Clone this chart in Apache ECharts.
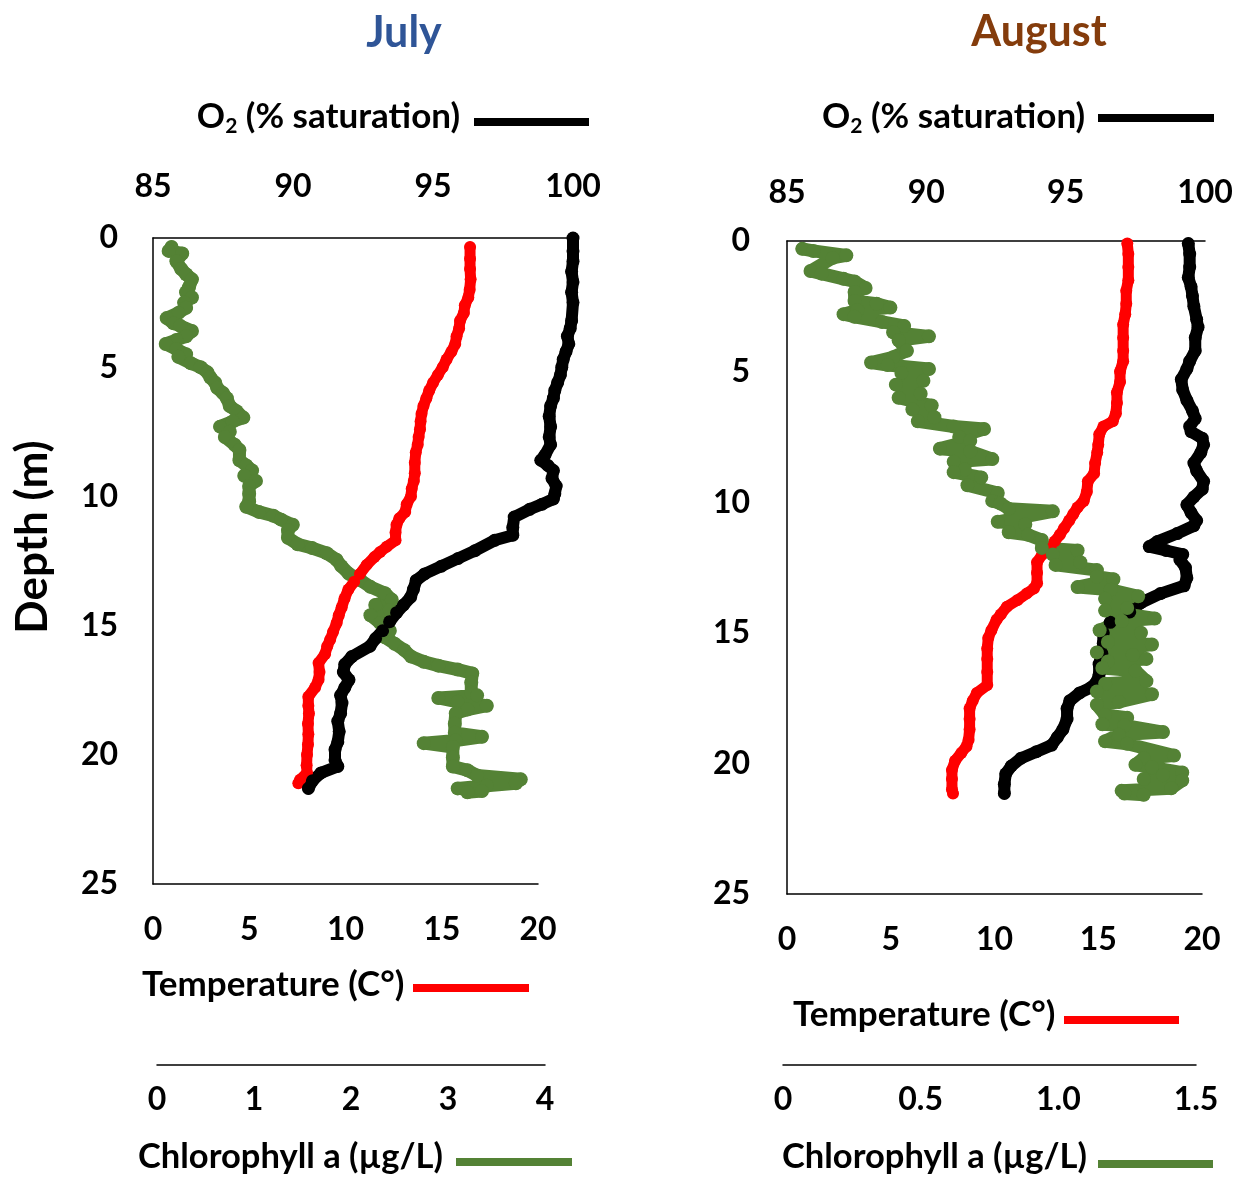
<!DOCTYPE html>
<html><head><meta charset="utf-8">
<script src="https://cdn.jsdelivr.net/npm/echarts@6/dist/echarts.min.js"></script>
<style>html,body{margin:0;padding:0;background:#fff}#c{width:1239px;height:1178px}</style>
</head><body><div id="c"></div>
<script>
// ---------------- DATA ----------------
const titles = ['July', 'August'];
const depthTicks = [0, 5, 10, 15, 20, 25];
const o2Ticks = [85, 90, 95, 100];
const tempTicks = [0, 5, 10, 15, 20];
const julyChlTicks = [0, 1, 2, 3, 4];
const augChlTicks = ['0', '0.5', '1.0', '1.5'];

// [O2 % saturation, depth m]
const julyO2 = [[100,0.0],[100,0.5],[100,0.9],[99.95,1.3],[100,1.7],[99.95,2.1],[100,2.5],[99.95,3.2],[99.9,3.5],[99.8,3.8],[99.85,4.1],[99.75,4.4],[99.65,4.7],[99.6,5.0],[99.55,5.3],[99.45,5.6],[99.35,5.9],[99.3,6.2],[99.2,6.5],[99.15,6.9],[99.2,7.3],[99.15,7.7],[99.2,8.0],[99.0,8.4],[98.85,8.6],[99.1,8.8],[99.3,9.0],[99.25,9.3],[99.4,9.6],[99.35,9.9],[99.3,10.1],[98.9,10.3],[98.45,10.5],[97.9,10.8],[97.85,11.2],[97.85,11.5],[97.2,11.7],[96.5,12.1],[95.9,12.4],[95.3,12.7],[94.7,13.0],[94.4,13.25],[94.3,13.6],[94.2,13.9],[93.95,14.2],[93.7,14.5],[93.45,14.85],[93.2,15.2],[92.95,15.5],[92.75,15.8],[92.1,16.2],[91.85,16.5],[91.8,16.8],[92.0,17.1],[91.85,17.4],[91.7,17.7],[91.75,18.0],[91.7,18.4],[91.6,18.7],[91.65,19.1],[91.6,19.5],[91.5,19.8],[91.5,20.2],[91.6,20.45],[91.0,20.7],[90.7,21.0],[90.55,21.3]];
// [temperature C, depth m]
const julyTemp = [[16.47,0.35],[16.47,0.8],[16.47,1.2],[16.5,1.6],[16.45,2.0],[16.38,2.3],[16.2,2.6],[16.15,2.9],[15.95,3.2],[15.9,3.5],[15.77,3.8],[15.7,4.1],[15.5,4.4],[15.25,4.7],[15.05,5.0],[14.8,5.3],[14.55,5.6],[14.35,5.9],[14.2,6.2],[14.05,6.5],[13.95,6.8],[13.9,7.1],[13.87,7.4],[13.8,7.7],[13.75,8.0],[13.65,8.3],[13.6,8.7],[13.6,9.1],[13.55,9.4],[13.44,9.7],[13.4,10.0],[13.18,10.3],[13.1,10.6],[12.8,10.85],[12.65,11.1],[12.6,11.4],[12.6,11.7],[12.14,11.95],[11.8,12.15],[11.5,12.35],[11.1,12.65],[10.75,13.0],[10.45,13.3],[10.15,13.6],[9.95,13.95],[9.8,14.3],[9.65,14.6],[9.54,14.9],[9.35,15.25],[9.2,15.55],[9.05,15.8],[8.94,16.1],[8.6,16.45],[8.65,16.8],[8.6,17.1],[8.42,17.4],[8.07,17.75],[8.07,18.1],[8.1,18.4],[8.05,18.8],[8.07,19.2],[8.05,19.6],[8.0,20.0],[7.98,20.4],[8.0,20.7],[7.64,20.97],[7.55,21.1]];
// [chlorophyll a ug/L, depth m]
const julyChl = [[0.15,0.35],[0.12,0.5],[0.26,0.6],[0.2,0.9],[0.25,1.2],[0.3,1.4],[0.36,1.6],[0.33,1.9],[0.3,2.1],[0.36,2.3],[0.28,2.5],[0.3,2.7],[0.22,2.9],[0.1,3.1],[0.17,3.3],[0.24,3.4],[0.36,3.6],[0.3,3.8],[0.2,3.95],[0.09,4.1],[0.2,4.3],[0.3,4.5],[0.22,4.6],[0.35,4.85],[0.45,5.0],[0.52,5.2],[0.55,5.4],[0.6,5.6],[0.62,5.8],[0.68,6.0],[0.72,6.2],[0.75,6.5],[0.82,6.7],[0.89,6.95],[0.78,7.1],[0.65,7.3],[0.75,7.5],[0.7,7.7],[0.8,8.0],[0.85,8.2],[0.85,8.6],[0.92,8.8],[0.98,9.0],[0.9,9.2],[1.02,9.4],[0.95,9.6],[0.95,9.9],[0.95,10.2],[0.92,10.4],[1.05,10.6],[1.2,10.75],[1.28,10.9],[1.4,11.1],[1.35,11.3],[1.35,11.6],[1.45,11.85],[1.6,12.0],[1.75,12.2],[1.85,12.45],[1.9,12.7],[1.98,13.0],[2.1,13.25],[2.2,13.5],[2.35,13.75],[2.42,14.0],[2.25,14.2],[2.4,14.4],[2.2,14.6],[2.3,14.9],[2.4,15.2],[2.35,15.45],[2.45,15.7],[2.55,15.95],[2.62,16.2],[2.75,16.4],[2.9,16.55],[3.1,16.7],[3.25,16.85],[3.24,17.2],[3.24,17.6],[3.3,17.7],[2.9,17.8],[3.1,17.95],[3.4,18.1],[3.2,18.25],[3.08,18.4],[3.07,18.8],[3.07,19.15],[3.35,19.3],[3.08,19.45],[2.75,19.55],[3.05,19.7],[3.05,20.1],[3.05,20.45],[3.2,20.6],[3.3,20.8],[3.75,20.95],[3.7,21.1],[3.4,21.2],[3.1,21.3],[3.35,21.4],[3.2,21.45]];

const augO2 = [[99.4,0.1],[99.45,0.5],[99.45,1.0],[99.4,1.4],[99.5,1.75],[99.55,2.1],[99.6,2.5],[99.7,3.0],[99.75,3.3],[99.65,3.7],[99.65,4.2],[99.45,4.6],[99.35,4.9],[99.15,5.3],[99.2,5.7],[99.35,6.1],[99.55,6.5],[99.65,6.8],[99.45,7.1],[99.5,7.3],[99.9,7.55],[99.95,7.8],[99.85,8.1],[99.6,8.5],[99.7,8.8],[99.95,9.2],[99.9,9.5],[99.6,9.8],[99.35,10.1],[99.5,10.4],[99.7,10.7],[99.6,10.9],[99.0,11.2],[98.3,11.5],[98.0,11.7],[98.6,11.85],[99.2,12.0],[99.1,12.2],[99.3,12.5],[99.35,12.9],[99.25,13.2],[98.4,13.5],[97.7,13.85],[97.3,14.2],[96.6,14.6],[96.35,15.0],[96.35,15.4],[96.3,15.8],[96.2,16.2],[96.2,16.6],[96.1,16.9],[95.9,17.1],[95.5,17.3],[95.15,17.6],[95.05,17.9],[95.05,18.3],[94.9,18.7],[94.7,19.0],[94.5,19.3],[93.95,19.55],[93.4,19.8],[93.05,20.1],[92.85,20.4],[92.8,20.8],[92.8,21.15]];
const augTemp = [[16.4,0.1],[16.45,0.5],[16.45,1.0],[16.45,1.5],[16.35,1.9],[16.35,2.4],[16.3,2.8],[16.2,3.2],[16.2,3.7],[16.2,4.2],[16.2,4.6],[16.05,5.0],[16.05,5.4],[15.9,5.8],[15.9,6.2],[15.85,6.6],[15.7,6.9],[15.25,7.1],[15.05,7.4],[15.0,7.8],[14.95,8.1],[14.85,8.5],[14.8,8.9],[14.5,9.2],[14.45,9.6],[14.3,9.95],[14.0,10.2],[13.8,10.45],[13.6,10.7],[13.35,11.0],[13.15,11.25],[12.9,11.5],[12.7,11.75],[12.3,12.0],[12.05,12.3],[12.05,12.7],[12.05,13.1],[11.9,13.3],[11.55,13.5],[11.1,13.75],[10.6,14.0],[10.3,14.3],[10.1,14.5],[9.85,14.9],[9.7,15.2],[9.65,15.6],[9.65,16.0],[9.65,16.5],[9.65,17.0],[9.15,17.3],[8.95,17.6],[8.8,17.9],[8.8,18.3],[8.8,18.7],[8.75,19.1],[8.65,19.35],[8.4,19.6],[8.1,19.9],[7.95,20.25],[7.95,20.6],[7.95,21.0],[8.0,21.15]];
const augChl = [[0.07,0.3],[0.11,0.38],[0.23,0.55],[0.18,0.65],[0.1,1.15],[0.14,1.25],[0.22,1.45],[0.26,1.55],[0.3,1.8],[0.26,1.95],[0.26,2.3],[0.34,2.4],[0.39,2.55],[0.27,2.65],[0.22,2.8],[0.26,2.9],[0.36,3.1],[0.44,3.25],[0.4,3.5],[0.53,3.65],[0.42,3.8],[0.45,4.2],[0.4,4.45],[0.32,4.65],[0.38,4.75],[0.53,4.9],[0.43,5.05],[0.51,5.35],[0.41,5.5],[0.5,5.85],[0.42,6.0],[0.54,6.3],[0.47,6.45],[0.55,6.75],[0.49,6.9],[0.62,7.1],[0.73,7.2],[0.64,7.5],[0.68,7.65],[0.57,7.95],[0.68,8.05],[0.76,8.35],[0.62,8.45],[0.66,8.75],[0.62,8.85],[0.72,9.05],[0.67,9.35],[0.78,9.65],[0.76,9.95],[0.79,10.05],[0.82,10.25],[0.98,10.35],[0.78,10.75],[0.88,10.85],[0.82,11.15],[0.89,11.25],[0.94,11.45],[0.94,11.75],[1.07,11.85],[0.98,12.0],[1.08,12.3],[0.99,12.4],[1.14,12.6],[1.14,12.85],[1.2,12.95],[1.07,13.25],[1.19,13.35],[1.29,13.6],[1.17,13.7],[1.25,14.05],[1.17,14.15],[1.35,14.45],[1.23,14.55],[1.15,14.9],[1.3,15.0],[1.18,15.35],[1.34,15.45],[1.14,15.75],[1.27,15.85],[1.32,16.0],[1.18,16.1],[1.16,16.35],[1.28,16.45],[1.32,16.85],[1.17,16.95],[1.14,17.25],[1.34,17.35],[1.22,17.65],[1.14,17.75],[1.17,18.15],[1.25,18.25],[1.16,18.5],[1.24,18.55],[1.38,18.8],[1.22,18.9],[1.17,19.15],[1.25,19.25],[1.42,19.7],[1.31,19.8],[1.28,20.05],[1.34,20.15],[1.45,20.35],[1.38,20.45],[1.31,20.6],[1.45,20.65],[1.41,20.95],[1.23,21.05],[1.24,21.15],[1.31,21.2]];

// ---------------- STYLE ----------------
const FF = 'Lato';
const TICK = 32;
const RED = '#ff0000', GREEN = '#548235', BLACK = '#000000';

const chart = echarts.init(document.getElementById('c'), null, {renderer: 'canvas'});

function lbl(margin, fmt) {
  const o = {show: true, color: '#000', fontSize: TICK, fontWeight: 'bold', fontFamily: FF, margin: margin, lineHeight: TICK};
  if (fmt) o.formatter = fmt;
  return o;
}
const axLine = {show: true, onZero: false, lineStyle: {color: '#000', width: 1.5}};

function xAx(grid, pos, min, max, interval, margin, offset, fmt) {
  return {type: 'value', gridIndex: grid, position: pos, min: min, max: max, interval: interval,
    offset: offset || 0, axisLine: axLine, axisTick: {show: false}, splitLine: {show: false},
    axisLabel: lbl(margin, fmt)};
}
function yAx(grid, show, margin) {
  return {type: 'value', gridIndex: grid, min: depthTicks[0], max: depthTicks[depthTicks.length - 1],
    interval: depthTicks[1] - depthTicks[0], inverse: true, show: show,
    axisLine: axLine, axisTick: {show: false}, splitLine: {show: false},
    axisLabel: lbl(margin)};
}
function ser(name, data, xi, color, lw, ss) {
  return {name: name, type: 'line', xAxisIndex: xi, yAxisIndex: xi, data: data,
    symbol: 'circle', symbolSize: ss, showSymbol: true,
    lineStyle: {color: color, width: lw, cap: 'round', join: 'round'},
    itemStyle: {color: color}, emphasis: {disabled: true}, silent: true, animation: false};
}

const L = {x: 153, top: 238, h: 646};
const R = {x: 787, top: 241, h: 653};

const augChlFmt = v => augChlTicks[Math.round(v / 0.5)];

const o2Rich = {m: {fontSize: 35, fontWeight: 'bold', fontFamily: FF, fill: '#000', lineHeight: 40},
                s: {fontSize: 21, fontWeight: 'bold', fontFamily: FF, fill: '#000', lineHeight: 21, verticalAlign: 'bottom'}};

const option = {
  animation: false,
  backgroundColor: '#fff',
  grid: [
    {left: L.x, top: L.top, width: 420, height: L.h},
    {left: L.x, top: L.top, width: 385, height: L.h},
    {left: 157, top: L.top, width: 388, height: L.h},
    {left: R.x, top: R.top, width: 418, height: R.h},
    {left: R.x, top: R.top, width: 415, height: R.h},
    {left: 783, top: R.top, width: 413, height: R.h}
  ],
  xAxis: [
    xAx(0, 'top', o2Ticks[0], o2Ticks[o2Ticks.length - 1], 5, 35),
    xAx(1, 'bottom', tempTicks[0], tempTicks[tempTicks.length - 1], 5, 30),
    xAx(2, 'bottom', julyChlTicks[0], julyChlTicks[julyChlTicks.length - 1], 1, 19, 181),
    xAx(3, 'top', o2Ticks[0], o2Ticks[o2Ticks.length - 1], 5, 32),
    xAx(4, 'bottom', tempTicks[0], tempTicks[tempTicks.length - 1], 5, 30),
    xAx(5, 'bottom', 0, 1.5, 0.5, 19, 171, augChlFmt)
  ],
  yAxis: [yAx(0, true, 35), yAx(1, false, 35), yAx(2, false, 35), yAx(3, true, 37), yAx(4, false, 37), yAx(5, false, 37)],
  series: [
    ser('July Chl', julyChl, 2, GREEN, 13, 14),
    ser('July Temp', julyTemp, 1, RED, 11, 12),
    ser('July O2', julyO2, 0, BLACK, 12, 13),
    ser('Aug O2', augO2, 3, BLACK, 12, 13),
    ser('Aug Temp', augTemp, 4, RED, 11, 12),
    ser('Aug Chl', augChl, 5, GREEN, 13, 14)
  ],
  graphic: {elements: [
    {type: 'text', x: 404, y: 33, style: {text: titles[0], fill: '#2F5597', fontSize: 43, fontWeight: 'bold', fontFamily: FF, align: 'center', verticalAlign: 'middle'}},
    {type: 'text', x: 1039, y: 32, style: {text: titles[1], fill: '#843C0C', fontSize: 43, fontWeight: 'bold', fontFamily: FF, align: 'center', verticalAlign: 'middle'}},
    {type: 'text', x: 33, y: 537, rotation: Math.PI / 2, style: {text: 'Depth (m)', fill: '#000', fontSize: 44, fontWeight: 'bold', fontFamily: FF, align: 'center', verticalAlign: 'middle'}},
    // O2 legends
    {type: 'text', x: 460, y: 117, style: {text: '{m|O}{s|2}{m| (% saturation)}', align: 'right', verticalAlign: 'middle', rich: o2Rich}},
    {type: 'rect', shape: {x: 474, y: 118, width: 115, height: 8}, style: {fill: BLACK}},
    {type: 'text', x: 822, y: 117, style: {text: '{m|O}{s|2}{m| (% saturation)}', align: 'left', verticalAlign: 'middle', rich: o2Rich}},
    {type: 'rect', shape: {x: 1098, y: 114, width: 116, height: 8}, style: {fill: BLACK}},
    // temperature legends
    {type: 'text', x: 142, y: 985, style: {text: 'Temperature (C°)', fill: '#000', fontSize: 35, fontWeight: 'bold', fontFamily: FF, align: 'left', verticalAlign: 'middle'}},
    {type: 'rect', shape: {x: 413, y: 984, width: 116, height: 8}, style: {fill: RED}},
    {type: 'text', x: 793, y: 1015, style: {text: 'Temperature (C°)', fill: '#000', fontSize: 35, fontWeight: 'bold', fontFamily: FF, align: 'left', verticalAlign: 'middle'}},
    {type: 'rect', shape: {x: 1064, y: 1016, width: 115, height: 8}, style: {fill: RED}},
    // chlorophyll legends
    {type: 'text', x: 138, y: 1157, style: {text: 'Chlorophyll a (µg/L)', fill: '#000', fontSize: 34.5, fontWeight: 'bold', fontFamily: FF, align: 'left', verticalAlign: 'middle'}},
    {type: 'rect', shape: {x: 456, y: 1158, width: 116, height: 8}, style: {fill: GREEN}},
    {type: 'text', x: 782, y: 1157, style: {text: 'Chlorophyll a (µg/L)', fill: '#000', fontSize: 34.5, fontWeight: 'bold', fontFamily: FF, align: 'left', verticalAlign: 'middle'}},
    {type: 'rect', shape: {x: 1098, y: 1160, width: 115, height: 8}, style: {fill: GREEN}}
  ]}
};
chart.setOption(option);
</script>
</body></html>
